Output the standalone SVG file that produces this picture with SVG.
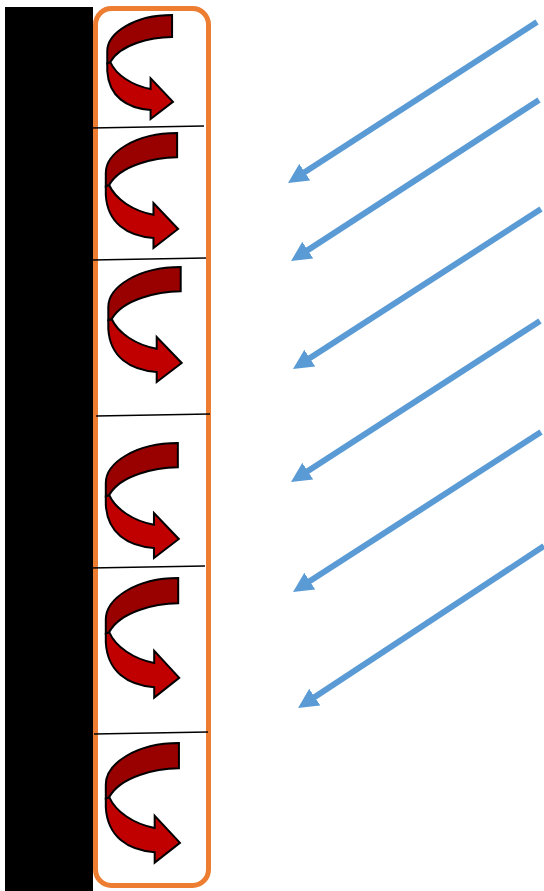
<svg xmlns="http://www.w3.org/2000/svg" xmlns:xlink="http://www.w3.org/1999/xlink" width="544" height="891" viewBox="0 0 544 891">
<style>
.dark{fill:#990000;stroke:#000;stroke-width:2;stroke-linejoin:miter}
.light{fill:#C00000;stroke:#000;stroke-width:2;stroke-linejoin:miter}
.div{stroke:#000;stroke-width:1.5}
.ray{stroke:#5B9BD5;stroke-width:6;fill:none;marker-end:url(#ah)}
</style>
<defs>
<marker id="ah" markerUnits="userSpaceOnUse" markerWidth="22" markerHeight="22" refX="10" refY="10" orient="auto" viewBox="0 0 22 20">
<path d="M0,0 L20,10 L0,20 Z" fill="#5B9BD5"/>
</marker>
<g id="curl">
<path class="light" vector-effect="non-scaling-stroke" d="M3.7,52 C10,66 28,78 48.7,81.7 L48.7,70 L73.7,96 L48.7,115 L48.7,105 C22,103 2,90 0.3,62 L0.3,53.3 Z"/>
<path class="dark" vector-effect="non-scaling-stroke" d="M72.7,0 L72.7,24.3 C50,24.5 15,32 3.7,52 L0.3,53.3 L0.3,40 C0.3,20 30,0 72.7,0 Z"/>
</g>
</defs>
<g id="wall"><rect x="5" y="7" width="88" height="884" fill="#000"/></g>
<g id="panel"><rect x="95.5" y="8.5" width="113" height="877" rx="16" fill="none" stroke="#ED7D31" stroke-width="5"/></g>
<g id="dividers">
<line class="div" x1="91" y1="128" x2="204" y2="126"/>
<line class="div" x1="92" y1="260" x2="206" y2="258"/>
<line class="div" x1="96" y1="416" x2="210" y2="414"/>
<line class="div" x1="90" y1="568" x2="205" y2="566"/>
<line class="div" x1="94" y1="734" x2="208" y2="732"/>
</g>
<g id="curl1"><use xlink:href="#curl" transform="translate(107,15) scale(0.895,0.905)"/></g>
<g id="curl2"><use xlink:href="#curl" transform="translate(105.5,133) scale(0.985,1)"/></g>
<g id="curl3"><use xlink:href="#curl" transform="translate(108,267)"/></g>
<g id="curl4"><use xlink:href="#curl" transform="translate(105.5,443) scale(0.995,1)"/></g>
<g id="curl5"><use xlink:href="#curl" transform="translate(105.5,578) scale(1,1.04)"/></g>
<g id="curl6"><use xlink:href="#curl" transform="translate(105.5,743) scale(1.01,1.04)"/></g>
<g id="connectors">
<line class="ray" x1="537" y1="22" x2="296.4" y2="177.6"/>
<line class="ray" x1="539" y1="100" x2="299.4" y2="255.6"/>
<line class="ray" x1="541" y1="209" x2="301.4" y2="363.6"/>
<line class="ray" x1="540" y1="321" x2="299.4" y2="476.6"/>
<line class="ray" x1="541" y1="432" x2="301.4" y2="586.6"/>
<line class="ray" x1="544" y1="546" x2="306.4" y2="702.6"/>
</g>
</svg>
